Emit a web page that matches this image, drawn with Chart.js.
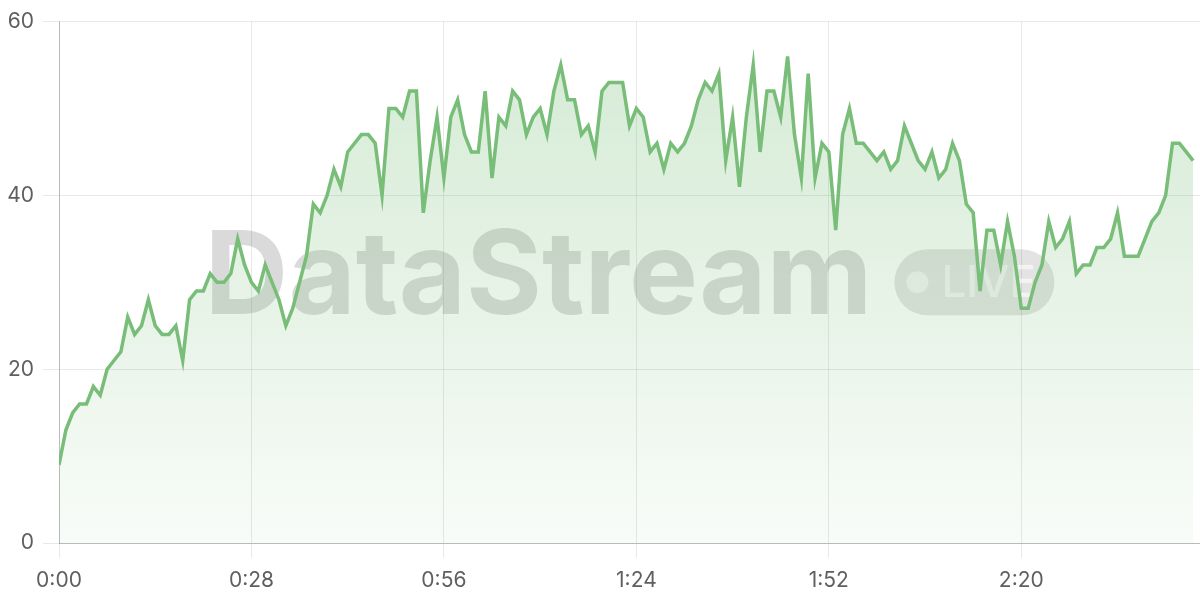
<!DOCTYPE html>
<html>
<head>
<meta charset="utf-8">
<script src="https://cdn.jsdelivr.net/npm/chart.js@4.4.1/dist/chart.umd.min.js"></script>
<style>
    html, body { margin: 0; padding: 0; background: #fff; }
    #wrap { width: 1200px; height: 600px; position: relative; }
</style>
</head>
<body>
<div id="wrap"><canvas id="streamChart"></canvas></div>
<script>
// One reading per second, 0:00 .. 2:45
const values = [
    9, 13, 15, 16, 16, 18, 17, 20, 21, 22,
    26, 24, 25, 28, 25, 24, 24, 25, 21, 28,
    29, 29, 31, 30, 30, 31, 35, 32, 30, 29,
    32, 30, 28, 25, 27, 30, 33, 39, 38, 40,
    43, 41, 45, 46, 47, 47, 46, 40, 50, 50,
    49, 52, 52, 38, 44, 49, 42, 49, 51, 47,
    45, 45, 52, 42, 49, 48, 52, 51, 47, 49,
    50, 47, 52, 55, 51, 51, 47, 48, 45, 52,
    53, 53, 53, 48, 50, 49, 45, 46, 43, 46,
    45, 46, 48, 51, 53, 52, 54, 44, 49, 41,
    49, 55, 45, 52, 52, 49, 56, 47, 42, 54,
    42, 46, 45, 36, 47, 50, 46, 46, 45, 44,
    45, 43, 44, 48, 46, 44, 43, 45, 42, 43,
    46, 44, 39, 38, 29, 36, 36, 32, 37, 33,
    27, 27, 30, 32, 37, 34, 35, 37, 31, 32,
    32, 34, 34, 35, 38, 33, 33, 33, 35, 37,
    38, 40, 46, 46, 45, 44
];
const xTicks = [0, 28, 56, 84, 112, 140];
const xTickLabels = ['0:00', '0:28', '0:56', '1:24', '1:52', '2:20'];
const yTicks = [0, 20, 40, 60];

const lineColor = '#78bd78';
const fontSpec = { family: 'Inter, "Noto Sans", sans-serif', size: 21 };

// Watermark drawn under the line, over the grid
const watermark = {
    id: 'watermark',
    beforeDatasetsDraw(chart) {
        const { ctx, chartArea } = chart;
        const cx = (chartArea.left + chartArea.right) / 2;
        const cy = (chartArea.top + chartArea.bottom) / 2;

        ctx.save();
        ctx.font = 'bold 116px Inter, "Noto Sans", sans-serif';
        const textW = ctx.measureText('DataStream').width;
        const pillW = 160, pillH = 66, gap = 22;
        const startX = cx - (textW + gap + pillW) / 2;

        ctx.fillStyle = 'rgba(0, 0, 0, 0.145)';
        ctx.textBaseline = 'alphabetic';
        ctx.fillText('DataStream', startX, cy + 32);

        const px = startX + textW + gap;
        const py = cy - pillH / 2;
        ctx.fillStyle = 'rgba(0, 0, 0, 0.11)';
        ctx.beginPath();
        ctx.roundRect(px, py, pillW, pillH, pillH / 2);
        ctx.fill();

        ctx.fillStyle = 'rgba(255, 255, 255, 0.55)';
        ctx.beginPath();
        ctx.arc(px + 23, cy, 11, 0, Math.PI * 2);
        ctx.fill();
        ctx.font = '500 44px Inter, "Noto Sans", sans-serif';
        ctx.textBaseline = 'middle';
        ctx.fillText('LIVE', px + 47, cy + 1);
        ctx.restore();
    }
};

const canvas = document.getElementById('streamChart');
const ctx = canvas.getContext('2d');

canvas.chart = new Chart(ctx, {
    type: 'line',
    data: {
        datasets: [{
            data: values.map((v, i) => ({ x: i, y: v })),
            borderColor: lineColor,
            borderWidth: 3.5,
            pointRadius: 0,
            tension: 0,
            fill: 'origin',
            backgroundColor: (context) => {
                const area = context.chart.chartArea;
                if (!area) return 'rgba(120, 189, 120, 0.2)';
                const g = context.chart.ctx.createLinearGradient(0, area.top, 0, area.bottom);
                g.addColorStop(0, 'rgba(120, 189, 120, 0.32)');
                g.addColorStop(1, 'rgba(120, 189, 120, 0.05)');
                return g;
            }
        }]
    },
    options: {
        responsive: true,
        maintainAspectRatio: false,
        animation: false,
        layout: { padding: { top: 19, right: 0, left: 0, bottom: 0 } },
        plugins: {
            legend: { display: false },
            tooltip: { enabled: false }
        },
        scales: {
            x: {
                type: 'linear',
                min: 0,
                max: 166,
                afterBuildTicks: (scale) => {
                    scale.ticks = xTicks.map(v => ({ value: v }));
                },
                afterFit: (scale) => { scale.height = 57; },
                ticks: {
                    autoSkip: false,
                    maxRotation: 0,
                    padding: 10,
                    color: '#5f5f5f',
                    font: fontSpec,
                    callback: (value) => xTickLabels[xTicks.indexOf(value)]
                },
                grid: { color: 'rgba(0, 0, 0, 0.09)', tickLength: 15 },
                border: { color: 'rgba(0, 0, 0, 0.2)' }
            },
            y: {
                min: 0,
                max: 60,
                afterBuildTicks: (scale) => {
                    scale.ticks = yTicks.map(v => ({ value: v }));
                },
                afterFit: (scale) => { scale.width = 59; },
                ticks: {
                    padding: 9,
                    color: '#5f5f5f',
                    font: fontSpec
                },
                grid: { color: 'rgba(0, 0, 0, 0.09)', tickLength: 16 },
                border: { color: 'rgba(0, 0, 0, 0.2)' }
            }
        }
    },
    plugins: [watermark]
});
</script>
</body>
</html>
